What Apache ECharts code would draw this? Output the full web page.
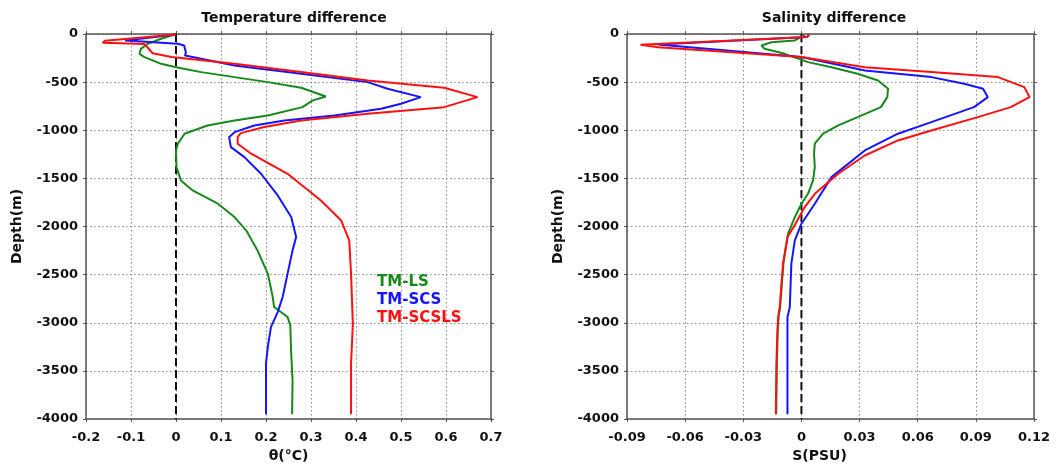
<!DOCTYPE html>
<html>
<head>
<meta charset="utf-8">
<script src="https://cdn.jsdelivr.net/npm/echarts@6/dist/echarts.min.js"></script>
<style>
html,body{margin:0;padding:0;background:#fff;}
#chart{width:1057px;height:467px;}
</style>
</head>
<body>
<div id="chart"></div>
<script>
// ---------- Data ----------
const seriesNames = ['TM-LS', 'TM-SCS', 'TM-SCSLS'];
const tempTicks = { min: -0.2, max: 0.7, interval: 0.1 };
const salTicks = { min: -0.09, max: 0.12, interval: 0.03 };
const depthTicks = { min: -4000, max: 0, interval: 500 };

// Temperature difference
const tLS_depth = [0, 50, 102, 154, 206, 240, 310, 345, 396, 448, 500, 559, 649, 690, 760, 846, 898, 950, 1036, 1140, 1210, 1383, 1521, 1625, 1763, 1902, 2040, 2248, 2490, 2733, 2837, 2889, 2941, 3027, 3321, 3598, 3950];
const tLS_val   = [0, -0.033, -0.063, -0.078, -0.081, -0.07, -0.033, 0, 0.056, 0.13, 0.204, 0.278, 0.333, 0.304, 0.281, 0.204, 0.13, 0.07, 0.019, 0.004, 0, 0.001, 0.011, 0.037, 0.093, 0.13, 0.156, 0.181, 0.204, 0.215, 0.218, 0.233, 0.248, 0.254, 0.256, 0.259, 0.258];

const tSCS_depth = [5, 67, 102, 119, 189, 223, 327, 413, 500, 569, 656, 725, 777, 846, 898, 950, 1020, 1072, 1175, 1279, 1452, 1677, 1902, 2110, 2248, 2490, 2733, 2889, 3045, 3253, 3425, 3950];
const tSCS_val   = [0, -0.113, 0.004, 0.018, 0.022, 0.02, 0.13, 0.278, 0.426, 0.47, 0.544, 0.5, 0.456, 0.352, 0.241, 0.174, 0.13, 0.118, 0.122, 0.152, 0.189, 0.226, 0.256, 0.267, 0.259, 0.248, 0.237, 0.226, 0.211, 0.204, 0.2, 0.2];

const tSCSLS_depth = [5, 70, 92, 105, 140, 200, 240, 310, 396, 483, 559, 656, 760, 829, 898, 967, 1030, 1072, 1140, 1244, 1452, 1729, 1937, 2144, 2490, 3010, 3425, 3950];
const tSCSLS_val   = [0, -0.158, -0.163, -0.07, -0.063, -0.052, -0.01, 0.13, 0.278, 0.426, 0.596, 0.67, 0.596, 0.426, 0.278, 0.196, 0.144, 0.137, 0.137, 0.167, 0.248, 0.322, 0.367, 0.385, 0.389, 0.393, 0.389, 0.389];

// Salinity difference
const sLS_depth = [15, 67, 85, 119, 154, 206, 292, 345, 413, 483, 569, 656, 760, 864, 950, 1036, 1140, 1244, 1383, 1521, 1660, 1763, 1902, 2075, 2386, 2837, 2941, 3079, 3425, 3950];
const sLS_val   = [0.0017, -0.0035, -0.0155, -0.0206, -0.019, -0.0086, 0.0034, 0.0155, 0.029, 0.0395, 0.0447, 0.0443, 0.041, 0.029, 0.019, 0.0112, 0.0069, 0.0065, 0.0069, 0.006, 0.0034, 0, -0.0034, -0.0069, -0.0093, -0.011, -0.0118, -0.0122, -0.0127, -0.013];

const sSCS_depth = [5, 30, 110, 240, 379, 448, 517, 569, 656, 760, 916, 1036, 1210, 1487, 1763, 1971, 2144, 2386, 2837, 2941, 3425, 3950];
const sSCS_val   = [0.004, 0.003, -0.074, 0, 0.0327, 0.067, 0.084, 0.0937, 0.0962, 0.089, 0.067, 0.0498, 0.0327, 0.0155, 0.0069, 0, -0.0034, -0.0052, -0.006, -0.0072, -0.0072, -0.0072];

const sSCSLS_depth = [5, 30, 112, 137, 240, 345, 396, 448, 552, 656, 760, 864, 1002, 1106, 1262, 1452, 1660, 1798, 2006, 2110, 2386, 2837, 2941, 3079, 3425, 3950];
const sSCSLS_val   = [0.004, 0.003, -0.083, -0.074, 0, 0.0327, 0.067, 0.1014, 0.115, 0.1177, 0.108, 0.091, 0.067, 0.0498, 0.0327, 0.019, 0.0069, 0.0017, -0.004, -0.0072, -0.0095, -0.0112, -0.012, -0.0124, -0.0129, -0.0132];

const zeroLine_depth = [0, 4000];
const zeroLine_val = [0, 0];

// ---------- Styling ----------
const COLORS = ['#16891a', '#1515ff', '#ff1010'];
const FONT = 'DejaVu Sans';
const AXIS_COLOR = '#555';

function pairs(vals, depths) {
  return vals.map((v, i) => [v, -depths[i]]);
}
function fmt(v) {
  const r = Math.round(v * 1000) / 1000;
  return String(r === 0 ? 0 : r);
}
function fmtInt(v) {
  return String(Math.round(v));
}

const chart = echarts.init(document.getElementById('chart'), null, { renderer: 'canvas' });

const grids = [
  { left: 86, top: 34, width: 405, height: 385, outerBoundsMode: 'none', containLabel: false },
  { left: 627, top: 34, width: 407, height: 385, outerBoundsMode: 'none', containLabel: false }
];

const axisLineStyle = { show: true, onZero: false, lineStyle: { color: AXIS_COLOR, width: 1.5 } };
const tickStyle = { show: true, inside: false, length: 3, lineStyle: { color: AXIS_COLOR, width: 1 } };
const splitStyle = { show: true, lineStyle: { color: '#8a8a8a', width: 1, type: [1.5, 2.5] } };
const labelStyle = { fontFamily: FONT, fontWeight: 'bold', fontSize: 13, color: '#111' };
const nameStyle = { fontFamily: FONT, fontWeight: 'bold', fontSize: 14, color: '#111' };

function xAxes(gridIndex, t, name, namePad) {
  return [
    {
      type: 'value', gridIndex, position: 'bottom', min: t.min, max: t.max, interval: t.interval,
      axisLine: axisLineStyle, axisTick: tickStyle, splitLine: splitStyle,
      axisLabel: Object.assign({ margin: 12, formatter: fmt, showMinLabel: true, showMaxLabel: true }, labelStyle),
      name, nameLocation: 'middle', nameGap: 25,
      nameTextStyle: Object.assign({ padding: namePad }, nameStyle)
    },
    {
      type: 'value', gridIndex, position: 'top', min: t.min, max: t.max, interval: t.interval,
      axisLine: axisLineStyle, axisTick: tickStyle, splitLine: { show: false }, axisLabel: { show: false }
    }
  ];
}
function yAxes(gridIndex) {
  return [
    {
      type: 'value', gridIndex, position: 'left', min: depthTicks.min, max: depthTicks.max, interval: depthTicks.interval,
      axisLine: axisLineStyle, axisTick: tickStyle, splitLine: splitStyle,
      axisLabel: Object.assign({ margin: 8, formatter: fmtInt, showMinLabel: true, showMaxLabel: true }, labelStyle),
      name: 'Depth(m)', nameLocation: 'middle', nameGap: 62, nameTextStyle: nameStyle
    },
    {
      type: 'value', gridIndex, position: 'right', min: depthTicks.min, max: depthTicks.max, interval: depthTicks.interval,
      axisLine: axisLineStyle, axisTick: tickStyle, splitLine: { show: false }, axisLabel: { show: false }
    }
  ];
}

function lineSeries(name, data, xi, yi, color) {
  return {
    name, type: 'line', xAxisIndex: xi, yAxisIndex: yi, data,
    showSymbol: false, symbol: 'none', smooth: false, silent: true,
    lineStyle: { color, width: 2 }, itemStyle: { color }, z: 3
  };
}
function zeroSeries(xi, yi) {
  return {
    name: 'zero', type: 'line', xAxisIndex: xi, yAxisIndex: yi,
    data: pairs(zeroLine_val, zeroLine_depth), showSymbol: false, symbol: 'none', silent: true,
    lineStyle: { color: '#111', width: 2, type: [8, 4] }, z: 2
  };
}

const option = {
  animation: false,
  backgroundColor: '#fff',
  title: [
    { text: 'Temperature difference', left: 289, top: 6, textAlign: 'center',
      textStyle: { fontFamily: FONT, fontWeight: 'bold', fontSize: 14, color: '#111' } },
    { text: 'Salinity difference', left: 829, top: 6, textAlign: 'center',
      textStyle: { fontFamily: FONT, fontWeight: 'bold', fontSize: 14, color: '#111' } }
  ],
  legend: {
    left: 372, top: 275, orient: 'vertical', padding: 0, itemGap: 3,
    itemWidth: 0, itemHeight: 0, icon: 'rect', selectedMode: false,
    textStyle: { fontFamily: FONT, fontWeight: 'bold', fontSize: 15 },
    data: seriesNames.map((n, i) => ({ name: n, textStyle: { color: COLORS[i] } }))
  },
  grid: grids,
  xAxis: [].concat(xAxes(0, tempTicks, 'θ(°C)', [0, 0, 0, 0]), xAxes(1, salTicks, 'S(PSU)', [0, 22, 0, 0])),
  yAxis: [].concat(yAxes(0), yAxes(1)),
  series: [
    zeroSeries(0, 0),
    lineSeries(seriesNames[0], pairs(tLS_val, tLS_depth), 0, 0, COLORS[0]),
    lineSeries(seriesNames[1], pairs(tSCS_val, tSCS_depth), 0, 0, COLORS[1]),
    lineSeries(seriesNames[2], pairs(tSCSLS_val, tSCSLS_depth), 0, 0, COLORS[2]),
    zeroSeries(2, 2),
    lineSeries(seriesNames[0], pairs(sLS_val, sLS_depth), 2, 2, COLORS[0]),
    lineSeries(seriesNames[1], pairs(sSCS_val, sSCS_depth), 2, 2, COLORS[1]),
    lineSeries(seriesNames[2], pairs(sSCSLS_val, sSCSLS_depth), 2, 2, COLORS[2])
  ]
};
chart.setOption(option);
</script>
</body>
</html>
